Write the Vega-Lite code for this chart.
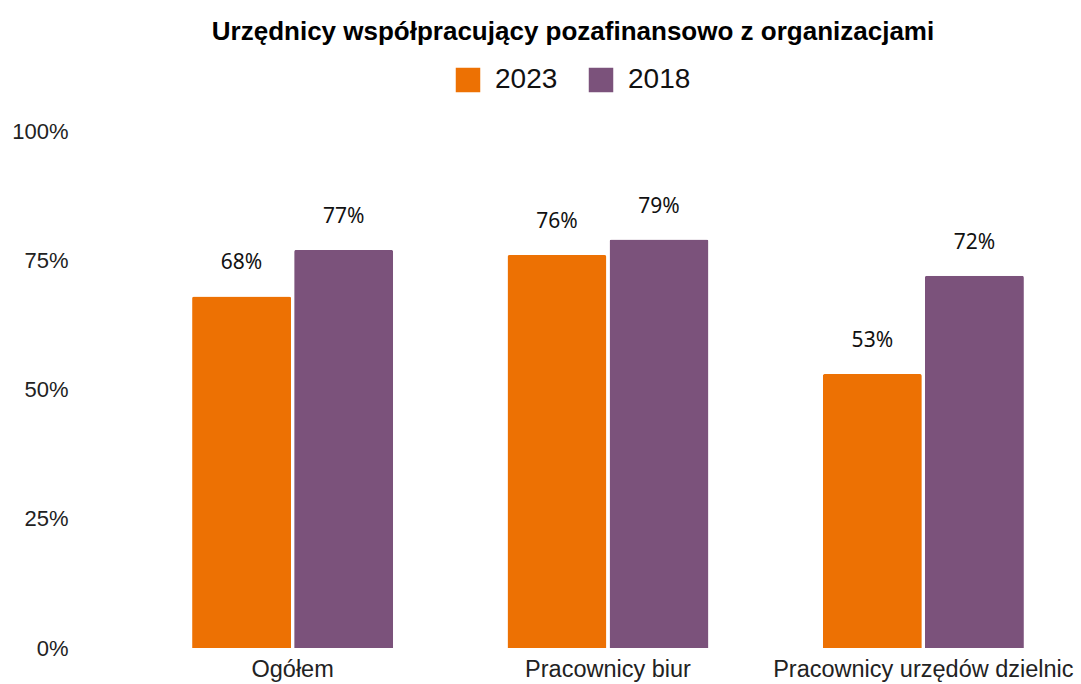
{
  "$schema": "https://vega.github.io/schema/vega-lite/v6.json",
  "width": 946,
  "height": 517,
  "autosize": {"type": "none"},
  "padding": {"left": 135, "top": 131, "right": 0, "bottom": 36},
  "background": "white",
  "title": {
    "text": "Urzędnicy współpracujący pozafinansowo z organizacjami",
    "font": "Liberation Sans",
    "fontSize": 26,
    "fontWeight": "bold",
    "color": "#000000",
    "anchor": "middle",
    "frame": "group",
    "dx": -35,
    "offset": 21
  },
  "data": {
    "values": [
      {"grupa": "Ogółem", "rok": "2023", "wartosc": 0.68},
      {"grupa": "Ogółem", "rok": "2018", "wartosc": 0.77},
      {"grupa": "Pracownicy biur", "rok": "2023", "wartosc": 0.76},
      {"grupa": "Pracownicy biur", "rok": "2018", "wartosc": 0.79},
      {"grupa": "Pracownicy urzędów dzielnic", "rok": "2023", "wartosc": 0.53},
      {"grupa": "Pracownicy urzędów dzielnic", "rok": "2018", "wartosc": 0.72}
    ]
  },
  "encoding": {
    "x": {
      "field": "grupa",
      "type": "nominal",
      "sort": null,
      "scale": {"paddingInner": 0.3625, "paddingOuter": 0.181},
      "axis": {
        "title": null,
        "labelAngle": 0,
        "domain": false,
        "ticks": false,
        "labelFont": "Liberation Sans",
        "labelFontSize": 23.5,
        "labelColor": "#222222",
        "labelPadding": 9,
        "labelLimit": 0
      }
    },
    "xOffset": {
      "field": "rok",
      "type": "nominal",
      "sort": ["2023", "2018"],
      "scale": {"paddingInner": 0.03, "paddingOuter": 0}
    },
    "y": {
      "field": "wartosc",
      "type": "quantitative",
      "scale": {"domain": [0, 1]},
      "axis": {
        "title": null,
        "values": [0, 0.25, 0.5, 0.75, 1],
        "format": ".0%",
        "grid": false,
        "domain": false,
        "ticks": false,
        "labelFont": "Liberation Sans",
        "labelFontSize": 22,
        "labelColor": "#222222",
        "labelPadding": 67
      }
    }
  },
  "layer": [
    {
      "mark": {"type": "bar", "cornerRadiusTopLeft": 2, "cornerRadiusTopRight": 2},
      "encoding": {
        "color": {
          "field": "rok",
          "type": "nominal",
          "sort": ["2023", "2018"],
          "scale": {"domain": ["2023", "2018"], "range": ["#ED7103", "#7B527B"]},
          "legend": {
            "title": null,
            "orient": "none",
            "direction": "horizontal",
            "legendX": 319,
            "legendY": -65,
            "symbolType": "square",
            "symbolSize": 600,
            "symbolStrokeWidth": 0,
            "labelFont": "Liberation Sans",
            "labelFontSize": 28,
            "labelColor": "#111111",
            "labelOffset": 13,
            "columnPadding": 29
          }
        }
      }
    },
    {
      "mark": {
        "type": "text",
        "baseline": "alphabetic",
        "dy": -27,
        "font": "Noto Sans",
        "fontSize": 21,
        "color": "#111111"
      },
      "encoding": {
        "text": {"field": "wartosc", "type": "quantitative", "format": ".0%"}
      }
    }
  ],
  "config": {"view": {"stroke": null}}
}
